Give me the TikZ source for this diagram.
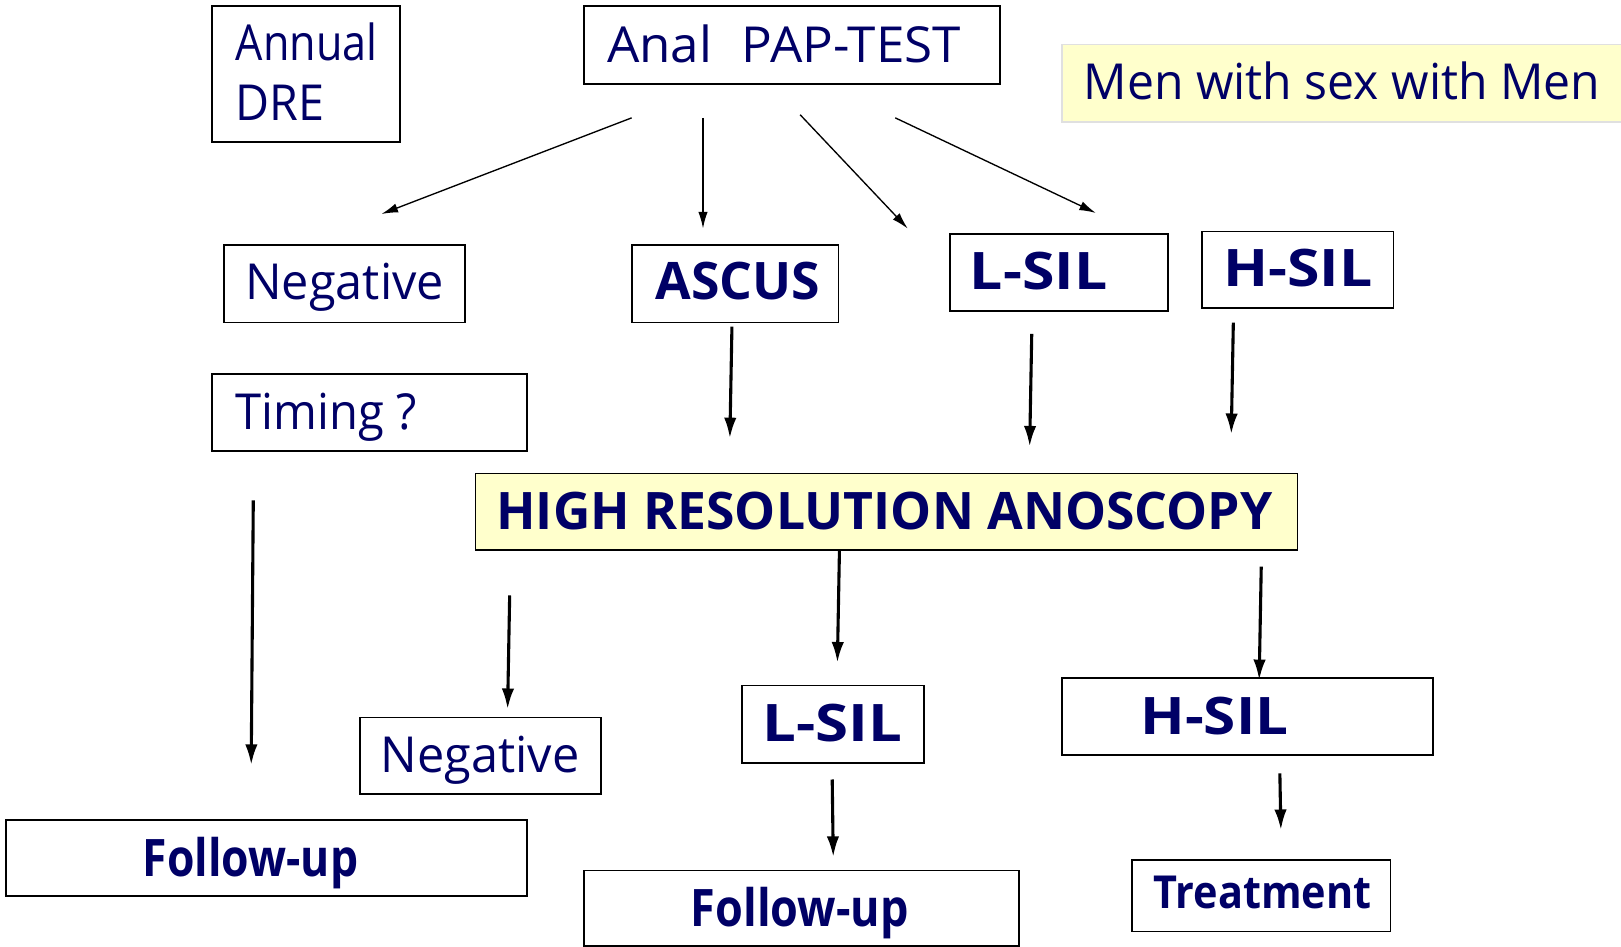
\documentclass[tikz,border=0pt]{standalone}
\usepackage{fontspec}
\usepackage{graphicx}
\setmainfont{Open Sans}
\usetikzlibrary{arrows.meta}
\definecolor{navy}{RGB}{0,0,102}
\definecolor{paleyellow}{RGB}{255,255,204}
\newcommand{\hsc}[2]{\scalebox{#1}[1]{#2}}
\begin{document}
\begin{tikzpicture}[x=1pt,y=-1pt,
  box/.style={draw=black, line width=1.7pt, anchor=north west, inner sep=0pt, outer sep=0pt},
  txt/.style={text=navy, inner sep=0pt, anchor=base west, font=\fontsize{48}{56}\selectfont},
  btxt/.style={text=navy, inner sep=0pt, anchor=base west, font=\fontsize{50}{58}\selectfont\bfseries},
  thinarrow/.style={line width=1.3pt, -{Latex[length=16pt,width=9pt]}},
  thickarrow/.style={line width=3pt, -{Latex[length=20pt,width=12pt]}}]
\useasboundingbox (0,0) rectangle (1568,916);
% boxes
\node[box, minimum width=182pt, minimum height=131pt] (dreb) at (205,6) {};
\node[box, minimum width=402pt, minimum height=75pt] (papb) at (565,6) {};
\node[box, draw=black!12, fill=paleyellow, minimum width=548pt, minimum height=75pt] (msmb) at (1027,43) {};
\node[box, minimum width=233pt, minimum height=75pt] (neg1b) at (217,237) {};
\node[box, minimum width=200pt, minimum height=75pt] (ascb) at (611,237) {};
\node[box, minimum width=211pt, minimum height=75pt] (lsil1b) at (919,226) {};
\node[box, minimum width=185pt, minimum height=74pt] (hsil1b) at (1163,224) {};
\node[box, minimum width=305pt, minimum height=74pt] (timb) at (205,362) {};
\node[box, fill=paleyellow, minimum width=795pt, minimum height=74pt] (hrab) at (460,458) {};
\node[box, minimum width=233pt, minimum height=74pt] (neg2b) at (348,694) {};
\node[box, minimum width=176pt, minimum height=75pt] (lsil2b) at (718,663) {};
\node[box, minimum width=359pt, minimum height=74pt] (hsil2b) at (1027,656) {};
\node[box, minimum width=504pt, minimum height=74pt] (fu1b) at (6,793) {};
\node[box, minimum width=421pt, minimum height=73pt] (fu2b) at (565,842) {};
\node[box, minimum width=250pt, minimum height=69pt] (trb) at (1095,832) {};
% texts
\node[txt] (annual) at (228,59) {\hsc{0.87}{Annual}};
\node[txt] (dre) at (228,117) {\hsc{0.94}{DRE}};
\node[txt] (pap) at (587,60) {\hsc{1.03}{Anal\hspace{28pt}PAP-TEST}};
\node[txt] (msm) at (1048,96) {\hsc{0.97}{Men with sex with Men}};
\node[txt] (neg1) at (237,290) {\hsc{0.98}{Negative}};
\node[btxt] (asc) at (634,290) {ASCUS};
\node[btxt] (lsil1) at (938,280) {\hsc{1.14}{L-SIL}};
\node[btxt] (hsil1) at (1183,277) {\hsc{1.14}{H-SIL}};
\node[txt] (tim) at (228,415) {\hsc{0.95}{Timing ?}};
\node[btxt] (hra) at (480,512) {HIGH RESOLUTION ANOSCOPY};
\node[txt] (neg2) at (368,747) {\hsc{0.98}{Negative}};
\node[btxt] (lsil2) at (737,717) {\hsc{1.16}{L-SIL}};
\node[btxt] (hsil2) at (1103,710) {\hsc{1.13}{H-SIL}};
\node[btxt] (fu1) at (138,848) {\hsc{0.86}{Follow-up}};
\node[btxt] (fu2) at (668,896) {\hsc{0.87}{Follow-up}};
\node[btxt, font=\fontsize{44}{52}\selectfont\bfseries] (tr) at (1116,879) {\hsc{0.91}{Treatment}};
% arrow end points
\coordinate (a1s) at (611,114); \coordinate (a1e) at (369,207);
\coordinate (a2s) at (680,114); \coordinate (a2e) at (680,221);
\coordinate (a3s) at (774,111); \coordinate (a3e) at (878,221);
\coordinate (a4s) at (866,114); \coordinate (a4e) at (1060,206);
\coordinate (b1s) at (708,316); \coordinate (b1e) at (706,424);
\coordinate (b2s) at (998,323); \coordinate (b2e) at (996,432);
\coordinate (b3s) at (1193,312); \coordinate (b3e) at (1191,420);
\coordinate (c1s) at (245,484); \coordinate (c1e) at (243,740);
\coordinate (c2s) at (493,576); \coordinate (c2e) at (491,686);
\coordinate (c3s) at (812,532); \coordinate (c3e) at (810,641);
\coordinate (c4s) at (1220,548); \coordinate (c4e) at (1218,658);
\coordinate (d1s) at (805,754); \coordinate (d1e) at (806,829);
\coordinate (d2s) at (1238,748); \coordinate (d2e) at (1239,803);
% arrows
\draw[thinarrow] (a1s) -- (a1e);
\draw[thinarrow] (a2s) -- (a2e);
\draw[thinarrow] (a3s) -- (a3e);
\draw[thinarrow] (a4s) -- (a4e);
\draw[thickarrow] (b1s) -- (b1e);
\draw[thickarrow] (b2s) -- (b2e);
\draw[thickarrow] (b3s) -- (b3e);
\draw[thickarrow] (c1s) -- (c1e);
\draw[thickarrow] (c2s) -- (c2e);
\draw[thickarrow] (c3s) -- (c3e);
\draw[thickarrow] (c4s) -- (c4e);
\draw[thickarrow] (d1s) -- (d1e);
\draw[thickarrow] (d2s) -- (d2e);
\end{tikzpicture}
\end{document}
